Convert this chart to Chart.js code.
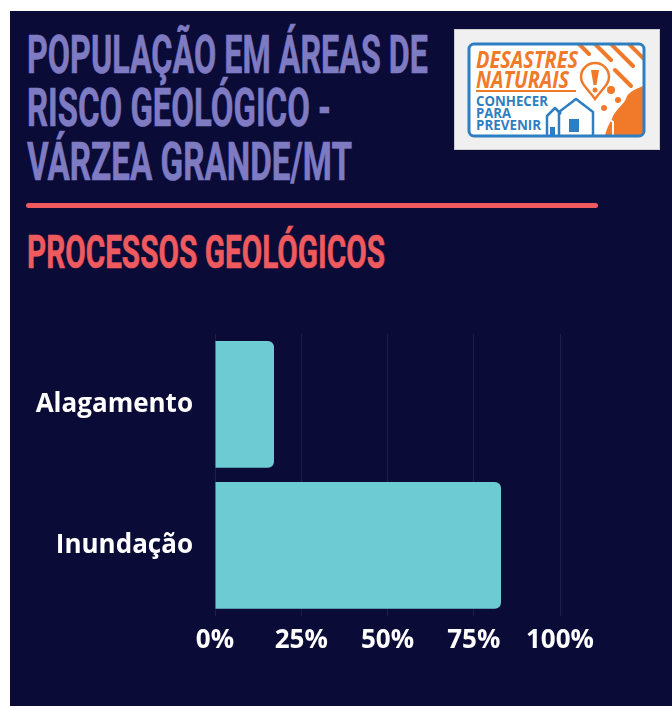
<!DOCTYPE html>
<html lang="pt-BR">
<head>
<meta charset="utf-8">
<title>População em áreas de risco geológico - Várzea Grande/MT</title>
<script src="https://cdn.jsdelivr.net/npm/chart.js@4.4.1/dist/chart.umd.min.js"></script>
<style>
  html, body { margin: 0; padding: 0; background: #ffffff; }
  body { width: 672px; height: 706px; position: relative; overflow: hidden; }
  #panel { position: absolute; left: 10px; top: 11px; width: 662px; height: 695px; background: #0b0b38; }
  .cond { position: absolute; left: 27px; font-family: Roboto, sans-serif; font-weight: 700;
          white-space: nowrap; transform-origin: 0 0; }
  .title { color: #7e7bc2; font-size: 53px; line-height: 53.5px; -webkit-text-stroke: 0.6px #7e7bc2; }
  .sub { color: #ef5a5f; font-size: 47px; line-height: 47px; -webkit-text-stroke: 0.6px #ef5a5f; }
  #rule { position: absolute; left: 26px; top: 203px; width: 572px; height: 5px; border-radius: 3px; background: #ef5a5f; }
  #logo { position: absolute; left: 454px; top: 29px; width: 204px; height: 119px;
          background: #f0f0f0; border: 1px solid #cfcfcf; }
  #chartBox { position: absolute; left: 10px; top: 290px; width: 662px; height: 416px; }
</style>
</head>
<body>
<div id="panel"></div>

<div class="cond title" style="top:28.6px" data-fit="401">POPULAÇÃO EM ÁREAS DE</div>
<div class="cond title" style="top:82.2px" data-fit="304">RISCO GEOLÓGICO -</div>
<div class="cond title" style="top:135.7px" data-fit="325">VÁRZEA GRANDE/MT</div>

<div id="logo">
  <svg width="204" height="119" viewBox="0 0 204 119" xmlns="http://www.w3.org/2000/svg">
    <defs>
      <clipPath id="inner"><rect x="14" y="14" width="175" height="92" rx="5"/></clipPath>
    </defs>
    <rect x="14" y="14" width="175" height="92" rx="5" fill="#ffffff"/>
    <g clip-path="url(#inner)" stroke="#f07a2a" stroke-width="4" stroke-linecap="round">
      <line x1="120" y1="10" x2="134" y2="24"/>
      <line x1="136" y1="10" x2="156" y2="30"/>
      <line x1="152" y1="10" x2="178" y2="36"/>
      <line x1="170" y1="10" x2="196" y2="36"/>
      <line x1="160" y1="40" x2="176" y2="56"/>
      <path d="M150 106 C152 96 156 92 158 86 C162 78 170 74 172 66 C176 60 184 58 192 54 L192 110 L150 110 Z"
            fill="#f07a2a" stroke="none"/>
      <circle cx="156" cy="60" r="4" fill="#f07a2a" stroke="none"/>
      <circle cx="163" cy="70" r="3" fill="#f07a2a" stroke="none"/>
      <circle cx="149" cy="78" r="3" fill="#f07a2a" stroke="none"/>
    </g>
    <path d="M140 69 C132 58 126 54 126 47 A14 14 0 0 1 154 47 C154 54 148 58 140 69 Z"
          fill="#ffffff" stroke="#f07a2a" stroke-width="2.5"/>
    <path d="M136 40 L144 40 L141.5 55 L138.5 55 Z" fill="#f07a2a"/>
    <circle cx="140" cy="60" r="2.5" fill="#f07a2a"/>
    <g fill="none" stroke="#2e7fc1" stroke-width="2.5" stroke-linejoin="round">
      <path d="M92 106 L92 86 L100 78 L106 84"/>
      <path d="M104 106 L104 82 L121 69 L138 82 L138 106"/>
    </g>
    <rect x="114" y="89" width="10" height="13" fill="#2e7fc1"/>
    <rect x="95" y="97" width="5" height="9" fill="#2e7fc1"/>
    <g fill="none" stroke="#ffffff" stroke-width="2" stroke-linejoin="round">
      <path d="M142 106 L142 92 L150 86 L158 92 L158 106"/>
    </g>
    <rect x="14" y="14" width="175" height="92" rx="5" fill="none" stroke="#2e7fc1" stroke-width="3"/>
    <g font-family="'Open Sans', sans-serif" font-weight="700">
      <text x="21" y="38" font-size="24" font-style="italic" fill="#f07a2a"
            textLength="102" lengthAdjust="spacingAndGlyphs">DESASTRES</text>
      <text x="21" y="58" font-size="24" font-style="italic" fill="#f07a2a"
            textLength="93" lengthAdjust="spacingAndGlyphs">NATURAIS</text>
      <rect x="21" y="60" width="100" height="2" fill="#f07a2a"/>
      <text x="21" y="76" font-size="14" fill="#2e7fc1"
            textLength="72" lengthAdjust="spacingAndGlyphs">CONHECER</text>
      <text x="21" y="88" font-size="14" fill="#2e7fc1"
            textLength="35" lengthAdjust="spacingAndGlyphs">PARA</text>
      <text x="21" y="100" font-size="14" fill="#2e7fc1"
            textLength="65" lengthAdjust="spacingAndGlyphs">PREVENIR</text>
    </g>
  </svg>
</div>

<div id="rule"></div>
<div class="cond sub" style="top:228px" data-fit="358">PROCESSOS GEOLÓGICOS</div>

<div id="chartBox"><canvas id="chart" width="662" height="416"></canvas></div>

<script>
/* ── Data ──────────────────────────────────────────────────── */
const categories   = ['Alagamento', 'Inundação'];
const shareOfPop   = [17.1, 82.9];              // % of population in risk areas
const xTickValues  = [0, 25, 50, 75, 100];
const xTickLabels  = ['0%', '25%', '50%', '75%', '100%'];

/* ── Palette ───────────────────────────────────────────────── */
const COLORS = {
    bar: '#6dccd3',
    grid: 'rgba(255, 255, 255, 0.08)',
    tick: '#ffffff',
};

/* condensed look for the headings: squeeze a bold face horizontally */
document.querySelectorAll('.cond').forEach(el => {
    const s = Number(el.dataset.fit) / el.getBoundingClientRect().width;
    el.style.transform = 'scaleX(' + s + ')';
});

/* ── Chart ─────────────────────────────────────────────────── */
const tickFont = { family: "'Open Sans', sans-serif", size: 26, weight: 'bold' };

new Chart(document.getElementById('chart'), {
    type: 'bar',
    data: {
        labels: categories,
        datasets: [{
            data: shareOfPop,
            backgroundColor: COLORS.bar,
            borderWidth: 0,
            borderRadius: 6,
            borderSkipped: 'start',
            categoryPercentage: 0.9,
            barPercentage: 1.0,
        }],
    },
    options: {
        indexAxis: 'y',
        responsive: false,
        animation: false,
        devicePixelRatio: 1,
        layout: { padding: { top: 44, bottom: 41, left: 0, right: 112 } },
        plugins: {
            legend: { display: false },
            tooltip: { enabled: false },
        },
        scales: {
            x: {
                min: 0,
                max: 100,
                ticks: {
                    stepSize: 25,
                    color: COLORS.tick,
                    font: tickFont,
                    padding: 9,
                    callback: v => xTickLabels[xTickValues.indexOf(v)],
                },
                grid: { color: COLORS.grid, drawTicks: false },
                border: { display: false },
            },
            y: {
                ticks: { color: COLORS.tick, font: tickFont, padding: 14 },
                grid: { display: false },
                border: { display: false },
                afterFit: scale => { scale.width = 205; },
            },
        },
    },
});
</script>
</body>
</html>
